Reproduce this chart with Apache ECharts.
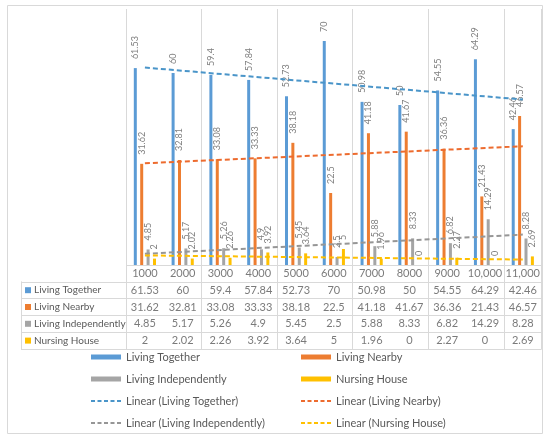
<!DOCTYPE html>
<html>
<head>
<meta charset="utf-8">
<script src="https://cdn.jsdelivr.net/npm/echarts@6/dist/echarts.min.js"></script>
<style>
html,body{margin:0;padding:0;background:#fff;}
#chart{width:550px;height:439px;}
</style>
</head>
<body>
<div id="chart"></div>
<script>
const categories = ['1000','2000','3000','4000','5000','6000','7000','8000','9000','10,000','11,000'];
const seriesNames = ['Living Together','Living Nearby','Living Independently','Nursing House'];
const livingTogether = [61.53,60,59.4,57.84,52.73,70,50.98,50,54.55,64.29,42.46];
const livingNearby = [31.62,32.81,33.08,33.33,38.18,22.5,41.18,41.67,36.36,21.43,46.57];
const livingIndependently = [4.85,5.17,5.26,4.9,5.45,2.5,5.88,8.33,6.82,14.29,8.28];
const nursingHouse = [2,2.02,2.26,3.92,3.64,5,1.96,0,2.27,0,2.69];
// linear trendline values at first and last category
const trendFirst = [61.7,31.8,3.5,3.0];
const trendLast = [51.7,37.1,9.5,1.7];

const colors = ['#5B9BD5','#ED7D31','#A5A5A5','#FFC000'];
const trendColors = ['#4A95C9','#ED6B2E','#969696','#FFC000'];
const allValues = [livingTogether, livingNearby, livingIndependently, nursingHouse];
const FONT = 'Lato';
const TXT = '#595959';

const chart = echarts.init(document.getElementById('chart'), null, {renderer:'canvas'});

const series = [];
allValues.forEach((vals, i) => {
  series.push({
    name: seriesNames[i], type: 'bar', xAxisIndex: 0, yAxisIndex: 0,
    data: vals, barWidth: 3, barGap: '113%', barCategoryGap: '40%',
    itemStyle: {color: colors[i]},
    label: {show: true, position: 'top', rotate: 90, align: 'left', verticalAlign: 'middle',
      distance: 9, color: '#7f7f7f', fontSize: 9, fontFamily: FONT},
    z: 2
  });
});
allValues.forEach((vals, i) => {
  const d = categories.map(() => null);
  d[0] = trendFirst[i];
  d[categories.length - 1] = trendLast[i];
  series.push({
    name: 'Linear (' + seriesNames[i] + ')', type: 'line', xAxisIndex: 0, yAxisIndex: 0,
    data: d, connectNulls: true, symbol: 'none', silent: true,
    lineStyle: {color: trendColors[i], width: 2, type: [5, 3]},
    itemStyle: {color: trendColors[i]},
    z: 3
  });
});
// data table
const tableData = categories.map((c, j) => [j, 0, c]);
allValues.forEach((vals, i) => vals.forEach((v, j) => tableData.push([j, i + 1, String(v)])));
series.push({
  type: 'scatter', xAxisIndex: 1, yAxisIndex: 1, symbolSize: 0, silent: true,
  data: tableData,
  label: {show: true, position: 'inside', formatter: p => p.value[2], color: TXT, fontSize: 11, fontFamily: FONT}
});

const rich = {};
colors.forEach((c, i) => { rich['s' + i] = {width: 6, height: 6, backgroundColor: c}; });
rich.t = {color: TXT, fontSize: 10, fontFamily: FONT, padding: [0, 0, 0, 3]};

const legendTextStyle = {color: TXT, fontSize: 11, fontFamily: FONT, lineHeight: 14};
const gridLine = {show: true, lineStyle: {color: '#D9D9D9', width: 1}};
const DASH_ICON = 'path://M0,0h4v2h-4z M6.5,0h4v2h-4z M13,0h4v2h-4z M19.5,0h4v2h-4z M26,0h4v2h-4z';
const lineItem = n => ({name: 'Linear (' + n + ')', icon: DASH_ICON});
const legendBase = {padding: 0, orient: 'vertical', itemWidth: 30, itemGap: 8, textStyle: legendTextStyle, height: 60};

chart.setOption({
  animation: false,
  textStyle: {fontFamily: FONT},
  graphic: [{type: 'rect', shape: {x: 7.5, y: 5.5, width: 535, height: 428}, style: {fill: 'none', stroke: '#D9D9D9', lineWidth: 1}, silent: true}],
  grid: [
    {left: 126, top: 9, width: 415.7, height: 256},
    {left: 126, top: 265, width: 415.7, height: 84},
    {left: 21, top: 281.8, width: 105, height: 67.2}
  ],
  xAxis: [
    {type: 'category', gridIndex: 0, data: categories, boundaryGap: true,
      axisLine: {show: false}, axisTick: {show: false}, axisLabel: {show: false}, splitLine: gridLine},
    {type: 'category', gridIndex: 1, data: categories, boundaryGap: true,
      axisLine: {show: false}, axisTick: {show: false}, axisLabel: {show: false}, splitLine: gridLine},
    {type: 'value', gridIndex: 2, show: false}
  ],
  yAxis: [
    {type: 'value', gridIndex: 0, min: 0, max: 80, show: false},
    {type: 'category', gridIndex: 1, inverse: true, data: [''].concat(seriesNames), boundaryGap: true,
      axisLine: {show: false}, axisTick: {show: false}, axisLabel: {show: false}, splitLine: gridLine},
    {type: 'category', gridIndex: 2, inverse: true, data: seriesNames, boundaryGap: true,
      axisLine: {show: true, lineStyle: {color: '#D9D9D9'}}, axisTick: {show: false}, splitLine: gridLine,
      axisLabel: {inside: true, margin: 4, align: 'left',
        formatter: (v, idx) => '{s' + idx + '|}{t|' + v + '}', rich: rich}}
  ],
  legend: [
    Object.assign({}, legendBase, {left: 91, top: 350, itemHeight: 5,
      data: [{name: seriesNames[0], icon: 'rect'}, {name: seriesNames[2], icon: 'rect'}]}),
    Object.assign({}, legendBase, {left: 301, top: 350, itemHeight: 5,
      data: [{name: seriesNames[1], icon: 'rect'}, {name: seriesNames[3], icon: 'rect'}]}),
    Object.assign({}, legendBase, {left: 91, top: 394, itemHeight: 2,
      data: [lineItem(seriesNames[0]), lineItem(seriesNames[2])]}),
    Object.assign({}, legendBase, {left: 301, top: 394, itemHeight: 2,
      data: [lineItem(seriesNames[1]), lineItem(seriesNames[3])]})
  ],
  series: series
});
</script>
</body>
</html>
